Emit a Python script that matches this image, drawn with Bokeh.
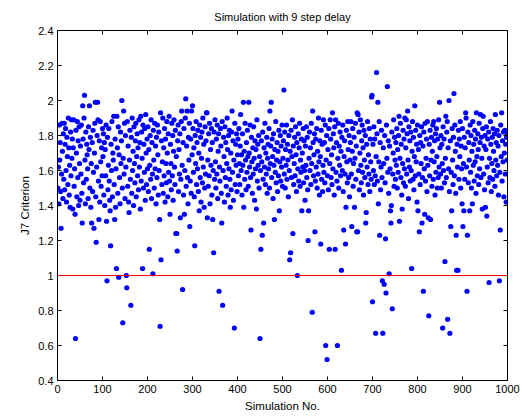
from bokeh.plotting import figure
from bokeh.models import Span, LinearAxis, FixedTicker, CustomJSTickFormatter, Range1d, ColumnDataSource
from bokeh.embed import file_html
from bokeh.resources import INLINE

title_text = "Simulation with 9 step delay"
x_label = "Simulation No."
y_label = "J7 Criterion"
x_ticks = [0, 100, 200, 300, 400, 500, 600, 700, 800, 900, 1000]
y_ticks = [0.4, 0.6, 0.8, 1.0, 1.2, 1.4, 1.6, 1.8, 2.0, 2.2, 2.4]
threshold = 1.0

j7 = [
    1.50, 1.62, 1.41, 1.86, 1.66, 1.76, 1.48, 1.27, 1.58, 1.87, 1.71, 1.44, 1.81, 1.55, 1.87, 1.49, 1.75, 1.84, 1.60, 1.42, 1.79, 1.68, 1.52, 1.90, 1.73, 1.46, 1.63, 1.39, 1.82, 1.57, 1.89, 1.67, 1.78, 1.38, 1.73, 1.89, 1.51, 1.61, 1.35, 0.64, 1.83, 1.70, 1.45, 1.88, 1.56, 1.77, 1.40, 1.85, 1.64, 1.43,
    1.74, 1.58, 1.86, 1.47, 1.30, 1.97, 1.78, 1.53, 1.90, 2.03, 1.66, 1.41, 1.82, 1.55, 1.75, 1.69, 1.61, 1.44, 1.85, 1.72, 1.97, 1.50, 1.79, 1.39, 1.64, 1.30, 1.76, 1.48, 1.83, 1.59, 1.27, 1.70, 1.87, 1.99, 1.45, 1.19, 1.62, 1.80, 1.99, 1.89, 1.54, 1.32, 1.77, 1.42, 1.88, 1.65, 1.51, 1.73, 1.57, 1.84,
    1.68, 1.81, 1.46, 1.76, 1.40, 1.72, 1.57, 1.86, 1.31, 0.97, 1.79, 1.49, 1.63, 1.84, 1.54, 1.43, 1.37, 1.17, 1.75, 1.60, 1.88, 1.45, 1.70, 1.66, 1.91, 1.52, 1.32, 1.78, 1.39, 1.61, 1.04, 1.91, 1.73, 1.47, 1.85, 0.99, 1.69, 1.56, 1.41, 1.82, 1.64, 1.77, 2.00, 1.50, 0.73, 1.67, 1.94, 1.58, 1.87, 1.44,
    1.80, 1.62, 1.00, 0.93, 1.88, 1.51, 1.74, 1.42, 1.36, 1.66, 1.83, 1.55, 0.83, 1.79, 1.47, 1.90, 1.60, 1.71, 1.40, 1.85, 1.64, 1.53, 1.77, 1.87, 1.45, 1.68, 1.81, 1.57, 1.73, 1.49, 1.89, 1.62, 1.76, 1.38, 1.91, 1.54, 1.82, 1.67, 1.04, 1.86, 1.50, 1.75, 1.59, 1.84, 1.43, 1.92, 1.70, 1.52, 1.78, 1.61,
    1.85, 1.48, 1.72, 1.15, 1.63, 1.80, 1.55, 1.89, 1.44, 1.76, 1.58, 1.01, 1.83, 1.66, 1.50, 1.87, 1.61, 1.74, 1.41, 1.79, 1.56, 1.86, 1.69, 1.46, 1.82, 1.60, 1.32, 0.71, 1.93, 1.09, 1.77, 1.52, 1.65, 1.90, 1.47, 1.73, 1.57, 1.84, 1.42, 1.78, 1.64, 1.53, 1.88, 1.70, 1.45, 1.81, 1.59, 1.91, 1.54, 1.35,
    1.75, 1.64, 1.49, 1.87, 1.57, 1.80, 1.43, 1.71, 1.89, 1.62, 1.52, 1.83, 1.24, 1.68, 1.24, 1.14, 1.77, 1.86, 1.48, 1.72, 1.58, 1.81, 1.33, 1.55, 1.88, 1.94, 1.63, 0.92, 1.76, 1.46, 1.84, 1.35, 1.60, 1.90, 2.01, 1.51, 1.74, 1.94, 1.56, 1.41, 1.79, 1.66, 1.87, 1.28, 1.54, 1.78, 1.47, 1.94, 1.69, 1.97,
    1.84, 1.59, 1.73, 1.45, 1.17, 1.80, 1.64, 1.88, 1.52, 1.76, 1.61, 1.83, 1.48, 1.70, 1.37, 1.86, 1.56, 1.79, 1.42, 1.67, 1.82, 1.53, 1.90, 1.62, 1.75, 1.39, 1.50, 1.85, 1.58, 1.77, 1.93, 1.93, 1.33, 1.66, 1.51, 1.81, 1.57, 1.87, 1.41, 1.72, 1.63, 1.84, 1.46, 1.76, 1.32, 1.60, 1.13, 1.82, 1.55, 1.89,
    1.65, 1.50, 1.78, 1.58, 1.86, 1.44, 1.71, 1.81, 0.91, 1.62, 1.54, 1.84, 1.74, 1.47, 1.30, 1.88, 0.83, 1.60, 1.79, 1.68, 1.42, 1.85, 1.56, 1.76, 1.51, 1.64, 1.90, 1.72, 1.46, 1.80, 1.61, 1.83, 1.55, 1.39, 1.70, 1.49, 1.82, 1.94, 1.59, 1.77, 1.43, 1.66, 0.70, 1.87, 1.52, 1.75, 1.63, 1.81, 1.48, 1.69,
    1.78, 1.57, 1.84, 1.64, 1.52, 1.74, 1.92, 1.60, 1.69, 1.46, 1.81, 1.63, 1.99, 1.39, 1.71, 1.55, 1.87, 1.66, 1.49, 1.76, 1.59, 1.83, 1.68, 1.51, 1.99, 1.70, 1.62, 1.86, 1.56, 1.26, 1.79, 1.65, 1.47, 1.73, 1.58, 1.85, 1.67, 1.43, 1.77, 1.61, 1.72, 1.38, 1.89, 1.54, 1.75, 1.63, 1.80, 1.50, 1.68, 0.64,
    1.60, 1.15, 1.77, 1.65, 1.23, 1.82, 1.55, 1.30, 1.73, 1.62, 1.87, 1.52, 1.70, 1.58, 1.79, 1.47, 1.67, 1.75, 1.61, 1.84, 1.50, 1.94, 1.64, 1.74, 1.99, 1.56, 1.78, 1.68, 1.44, 1.81, 1.63, 1.32, 1.72, 1.59, 1.88, 1.53, 1.66, 1.76, 1.48, 1.71, 1.57, 1.83, 1.37, 1.65, 1.80, 1.54, 1.74, 1.62, 1.86, 1.51,
    1.67, 1.77, 2.06, 1.58, 1.82, 1.50, 1.72, 1.63, 1.86, 1.55, 1.75, 1.66, 1.45, 1.80, 1.60, 1.09, 1.71, 1.13, 1.83, 1.56, 1.68, 1.89, 1.24, 1.74, 1.52, 1.64, 1.79, 1.57, 1.85, 1.69, 1.48, 1.76, 1.00, 1.61, 1.81, 1.54, 1.73, 1.87, 1.51, 1.66, 1.59, 1.78, 1.37, 1.70, 1.62, 1.84, 1.53, 1.77, 1.60, 1.43,
    1.74, 1.63, 1.85, 1.56, 1.79, 1.49, 1.20, 1.37, 1.67, 1.82, 1.60, 1.73, 1.52, 1.87, 1.64, 0.79, 1.94, 1.76, 1.57, 1.69, 1.81, 1.25, 1.54, 1.78, 1.62, 1.84, 1.50, 1.71, 1.58, 1.90, 1.65, 1.46, 1.77, 1.68, 1.18, 1.83, 1.55, 1.75, 1.48, 1.63, 1.89, 1.59, 1.76, 1.53, 1.86, 0.60, 1.66, 1.80, 0.52, 1.57,
    1.72, 1.49, 1.84, 1.15, 1.64, 1.89, 1.78, 1.56, 1.69, 1.52, 1.93, 1.61, 1.81, 1.73, 1.46, 1.85, 1.15, 1.89, 1.59, 1.76, 1.54, 0.60, 1.67, 1.87, 1.50, 1.74, 1.63, 1.82, 1.57, 1.71, 1.03, 1.79, 1.60, 1.86, 1.48, 1.26, 1.68, 1.77, 1.58, 1.18, 1.39, 1.83, 1.65, 1.53, 1.88, 1.72, 1.56, 1.80, 1.45, 1.66,
    1.76, 1.88, 1.58, 1.28, 1.71, 1.84, 1.51, 1.64, 1.79, 1.39, 1.67, 1.87, 1.55, 1.74, 1.25, 1.93, 1.25, 1.92, 1.60, 1.82, 1.49, 1.70, 1.89, 1.63, 1.53, 1.77, 1.86, 1.59, 1.73, 1.46, 1.83, 1.66, 1.56, 1.80, 1.30, 1.36, 1.75, 1.62, 1.88, 1.52, 1.69, 1.58, 1.84, 1.48, 1.78, 1.65, 1.55, 2.02, 2.03, 0.85,
    1.75, 1.60, 1.85, 1.52, 1.78, 1.57, 0.67, 1.68, 2.16, 1.81, 1.54, 1.99, 1.41, 1.65, 1.88, 1.23, 1.76, 1.49, 1.62, 1.83, 1.56, 0.97, 0.67, 1.73, 1.64, 0.95, 1.80, 1.53, 1.21, 0.90, 1.86, 1.67, 2.08, 1.59, 1.77, 1.47, 1.01, 1.74, 1.61, 1.37, 1.30, 1.40, 1.82, 0.81, 1.58, 1.70, 1.89, 1.51, 1.79, 1.66,
    1.55, 1.76, 1.63, 1.84, 1.50, 1.72, 1.59, 1.80, 1.91, 1.31, 1.67, 1.87, 1.56, 1.75, 1.46, 1.38, 1.64, 1.83, 1.53, 1.78, 1.61, 1.90, 1.51, 1.73, 1.89, 1.58, 1.81, 1.94, 1.66, 1.44, 1.85, 1.62, 1.77, 1.54, 1.82, 1.60, 1.04, 1.71, 1.88, 1.55, 1.79, 1.49, 1.68, 1.97, 1.57, 1.83, 1.65, 1.75, 1.42, 1.86,
    1.37, 1.72, 1.58, 1.25, 1.80, 1.52, 1.76, 1.64, 1.85, 1.30, 1.56, 1.74, 0.91, 1.82, 1.61, 1.35, 1.87, 1.54, 1.67, 1.78, 1.48, 1.88, 1.63, 1.33, 0.77, 1.75, 1.57, 1.83, 1.32, 1.66, 1.79, 1.51, 1.71, 1.86, 1.55, 1.88, 1.65, 1.77, 1.46, 1.81, 1.59, 1.84, 1.68, 1.50, 1.78, 1.56, 1.89, 1.62, 1.99, 1.73,
    1.58, 1.80, 1.50, 1.75, 1.64, 0.70, 1.85, 1.60, 1.78, 1.53, 1.08, 1.67, 1.91, 1.56, 1.82, 1.88, 0.75, 1.73, 1.61, 2.00, 1.48, 0.67, 1.77, 1.28, 1.59, 1.37, 1.84, 1.66, 1.52, 1.79, 2.04, 1.57, 1.86, 1.71, 1.47, 1.23, 1.03, 1.75, 1.62, 1.03, 1.83, 1.55, 1.78, 1.68, 1.88, 1.50, 1.74, 1.61, 1.41, 1.84,
    1.28, 1.64, 1.37, 1.79, 1.55, 1.73, 1.93, 1.90, 1.62, 0.91, 1.23, 1.82, 1.53, 1.76, 1.66, 1.37, 1.86, 1.59, 1.80, 1.50, 1.71, 1.41, 1.88, 1.63, 1.75, 1.54, 1.83, 1.65, 1.78, 1.47, 1.93, 1.68, 1.57, 1.81, 1.72, 1.52, 1.87, 1.61, 1.76, 1.92, 1.56, 1.79, 1.67, 1.38, 1.84, 1.91, 1.58, 1.74, 1.49, 1.80,
    1.39, 1.72, 1.85, 1.34, 1.62, 1.78, 1.53, 1.82, 0.96, 1.67, 1.56, 1.88, 1.75, 1.48, 1.64, 1.79, 1.55, 1.84, 1.71, 1.60, 1.81, 1.51, 1.92, 1.66, 1.76, 1.57, 1.83, 1.63, 1.74, 1.46, 1.80, 0.97, 1.59, 1.26, 1.86, 1.68, 1.93, 1.54, 1.77, 1.65, 1.82, 1.45, 1.70, 1.83, 1.58, 1.75, 1.42, 1.79, 1.66, 1.81,
]
sim_no = list(range(1, len(j7) + 1))

FONT = "Liberation Sans"

p = figure(width=520, height=417, output_backend="svg", toolbar_location=None,
           x_range=Range1d(0, 1000), y_range=Range1d(0.4, 2.4),
           min_border_left=57, min_border_right=13, min_border_top=30, min_border_bottom=37)
p.title.text = title_text
p.title.align = "center"
p.title.text_font = FONT
p.title.text_font_size = "11px"
p.title.text_font_style = "normal"
p.title.text_color = "black"
p.title.standoff = 15

p.grid.visible = False
p.outline_line_color = "black"
p.outline_line_width = 1

fmt = CustomJSTickFormatter(code="return Number(tick.toFixed(1)).toString();")
blank = CustomJSTickFormatter(code="return '';")

for ax in p.xaxis:
    ax.ticker = FixedTicker(ticks=x_ticks)
for ax in p.yaxis:
    ax.ticker = FixedTicker(ticks=y_ticks)
    ax.formatter = fmt

for ax in list(p.xaxis) + list(p.yaxis):
    ax.major_tick_in = 4
    ax.major_tick_out = 0
    ax.minor_tick_line_color = None
    ax.axis_line_color = "black"
    ax.major_tick_line_color = "black"
    ax.major_label_text_font = FONT
    ax.major_label_text_font_size = "11px"
    ax.major_label_text_color = "black"
    ax.axis_label_text_font = FONT
    ax.axis_label_text_font_size = "11.5px"
    ax.axis_label_text_font_style = "normal"
    ax.axis_label_text_color = "black"
    ax.major_label_standoff = 4
    ax.axis_label_standoff = 4

p.xaxis.axis_label = x_label
p.yaxis.axis_label = y_label

top_ax = LinearAxis(ticker=FixedTicker(ticks=x_ticks), formatter=blank,
                    major_label_text_font_size="0px",
                    major_tick_in=4, major_tick_out=0, minor_tick_line_color=None,
                    major_label_standoff=0)
right_ax = LinearAxis(ticker=FixedTicker(ticks=y_ticks), formatter=blank,
                      major_label_text_font_size="0px",
                      major_tick_in=4, major_tick_out=0, minor_tick_line_color=None,
                      major_label_standoff=0)
p.add_layout(top_ax, "above")
p.add_layout(right_ax, "right")

p.add_layout(Span(location=threshold, dimension="width", line_color="#ff0000", line_width=1))

src = ColumnDataSource(dict(x=sim_no, y=j7))
p.scatter("x", "y", source=src, size=5.2, fill_color="#0000ff", line_color=None)

open("out.html", "w").write(file_html(p, INLINE))
